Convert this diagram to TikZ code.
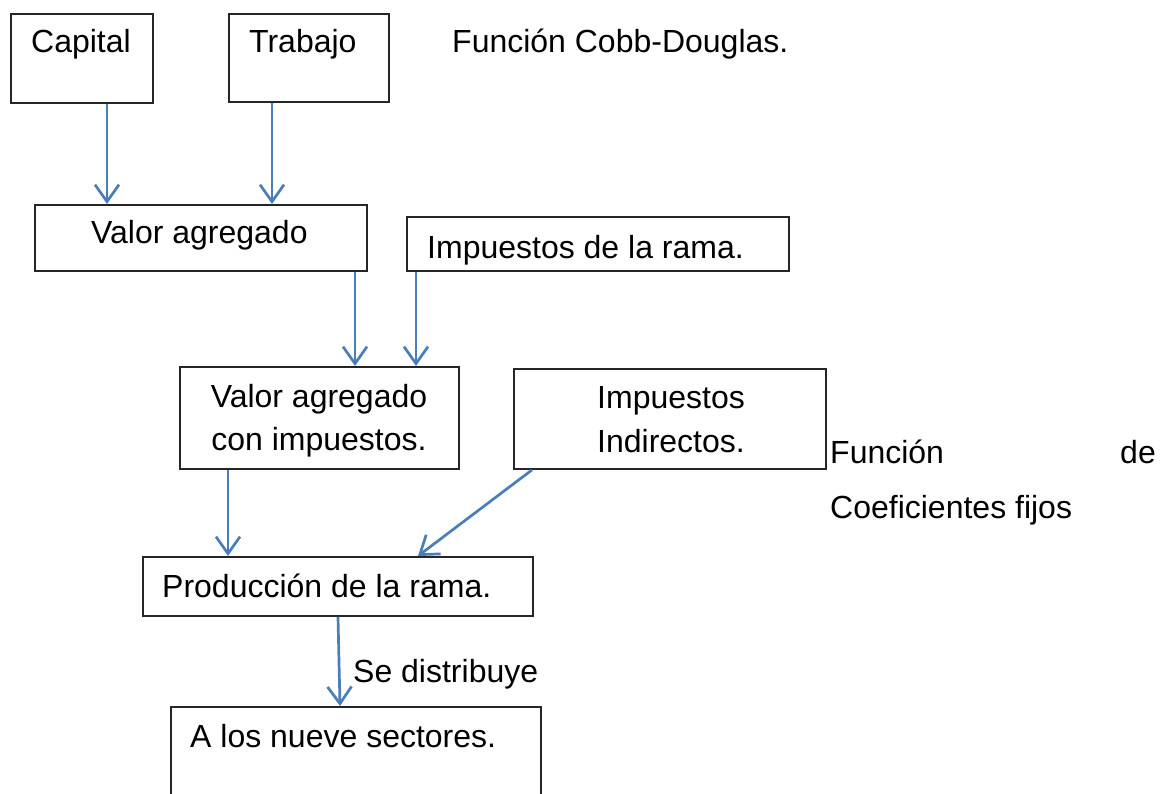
\documentclass[tikz,border=0pt]{standalone}
\usepackage{fontspec}
\setmainfont{Liberation Sans}
\usetikzlibrary{arrows.meta}
\definecolor{arrblue}{HTML}{4A7EBB}
\definecolor{boxline}{HTML}{262626}
\tikzset{
  box/.style={draw=boxline, line width=1.9pt, rectangle, inner sep=0pt, anchor=north west},
  txt/.style={inner sep=0pt, font=\fontsize{32}{38}\selectfont},
  arr/.style={draw=arrblue, line width=2.7pt, -{Straight Barb[length=17pt,width=24pt,line width=2.7pt]}}
}
\begin{document}
\begin{tikzpicture}[x=1pt,y=-1pt]
\useasboundingbox (0,0) rectangle (1160,794);
\clip (0,0) rectangle (1160,794);
% boxes
\node[box, minimum width=142pt, minimum height=89pt] (cap) at (10,13) {};
\node[box, minimum width=160pt, minimum height=88pt] (trab) at (228,13) {};
\node[box, minimum width=332pt, minimum height=66pt] (va) at (34,204) {};
\node[box, minimum width=382pt, minimum height=54pt] (ir) at (406,216) {};
\node[box, minimum width=279pt, minimum height=102pt] (vai) at (179,366) {};
\node[box, minimum width=312pt, minimum height=100pt] (ii) at (513,368) {};
\node[box, minimum width=390pt, minimum height=59pt] (prod) at (142,556) {};
\node[box, minimum width=370pt, minimum height=110pt] (ano) at (170,706) {};
% texts
\node[txt, anchor=base west] (tcap) at (31,53) {Capital};
\node[txt, anchor=base west] (ttrab) at (249,53) {Trabajo};
\node[txt, anchor=base west] (tcobb) at (452,53) {Función Cobb-Douglas.};
\node[txt, anchor=base west] (tva) at (91,244) {Valor agregado};
\node[txt, anchor=base west] (tir) at (427,259) {Impuestos de la rama.};
\node[txt, anchor=base] (tvai1) at (319,407) {Valor agregado};
\node[txt, anchor=base] (tvai2) at (319,450) {con impuestos.};
\node[txt, anchor=base west] (tii1) at (597,409) {Impuestos};
\node[txt, anchor=base west] (tii2) at (597,452) {Indirectos.};
\node[txt, anchor=base west] (tfun) at (830,463) {Función};
\node[txt, anchor=base east] (tde) at (1156,463) {de};
\node[txt, anchor=base west] (tcoef) at (830,518) {Coeficientes fijos};
\node[txt, anchor=base west] (tprod) at (162,597) {Producción de la rama.};
\node[txt, anchor=base west] (tdis) at (353,682) {Se distribuye};
\node[txt, anchor=base west] (tano) at (190,747) {A los nueve sectores.};
% arrows
\draw[arr] ([xshift=97pt]cap.south west) -- ([xshift=73pt]va.north west);
\draw[arr] ([xshift=44pt]trab.south west) -- ([xshift=238pt]va.north west);
\draw[arr] ([xshift=321pt]va.south west) -- ([xshift=176pt]vai.north west);
\draw[arr] ([xshift=10pt]ir.south west) -- ([xshift=237pt]vai.north west);
\draw[arr] ([xshift=49pt]vai.south west) -- ([xshift=86pt]prod.north west);
\draw[arr] ([xshift=19pt]ii.south west) -- ([xshift=276pt]prod.north west);
\draw[arr] ([xshift=196pt]prod.south west) -- ([xshift=170pt]ano.north west);
\end{tikzpicture}
\end{document}
